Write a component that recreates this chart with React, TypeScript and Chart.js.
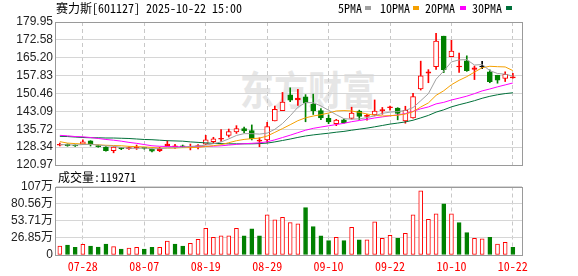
import React, { useEffect, useRef } from 'react';
import { Chart, registerables } from 'chart.js';
Chart.register(...registerables);

const stockTitle = '赛力斯[601127] 2025-10-22 15:00';
const volumeTitle = '成交量:119271';
const watermarkText = '东方财富';

const dates = ['07-23','07-24','07-25','07-28','07-29','07-30','07-31','08-01','08-04','08-05','08-06','08-07','08-08','08-11','08-12','08-13','08-14','08-15','08-18','08-19','08-20','08-21','08-22','08-25','08-26','08-27','08-28','08-29','09-01','09-02','09-03','09-04','09-05','09-08','09-09','09-10','09-11','09-12','09-15','09-16','09-17','09-18','09-19','09-22','09-23','09-24','09-25','09-26','09-29','09-30','10-09','10-10','10-13','10-14','10-15','10-16','10-17','10-20','10-21','10-22'];

const opens = [129.1,129.5,129.0,129.6,130.9,129.0,128.4,126.9,127.9,127.7,128.0,128.0,127.4,126.9,128.9,128.5,128.9,128.3,128.6,129.6,130.6,131.6,133.2,134.6,136.0,135.2,130.8,131.3,139.2,143.4,149.9,147.8,149.1,146.0,143.4,140.2,138.0,139.6,140.2,143.2,141.0,141.6,143.4,144.6,144.4,139.1,140.4,152.3,158.8,161.5,174.1,165.6,161.4,163.9,160.4,161.4,159.4,158.0,156.7,156.9];
const closes = [129.5,128.9,128.8,130.5,129.5,128.5,126.9,128.4,127.7,127.9,128.2,127.8,126.7,127.8,129.6,128.7,128.4,128.6,128.8,131.3,131.8,131.9,134.8,136.0,135.0,131.8,131.0,136.8,143.9,146.9,147.7,148.6,146.6,143.4,140.4,138.7,139.5,138.4,142.4,141.0,141.2,143.2,143.6,144.8,142.2,143.5,149.2,157.7,159.4,172.1,160.3,168.0,161.8,159.9,161.0,161.4,155.3,156.0,158.4,157.1];
const highs = [130.0,129.7,129.3,131.3,131.0,129.2,128.6,128.5,128.2,128.5,129.2,128.3,127.6,128.3,131.0,129.5,129.2,129.6,129.4,133.2,132.4,135.6,135.8,137.2,136.6,137.5,132.2,138.6,145.3,150.9,152.8,152.2,150.0,150.2,144.2,141.6,139.8,139.9,144.8,143.6,141.9,147.8,144.7,145.3,144.6,145.2,150.5,163.8,160.3,175.3,174.1,172.4,167.1,166.0,161.8,163.7,160.2,158.0,159.4,158.8];
const lows = [128.8,128.7,128.6,129.4,128.8,128.3,126.7,126.0,127.3,127.4,127.4,127.5,126.4,126.5,128.8,127.8,128.2,127.2,127.6,129.4,129.9,130.7,132.5,134.0,134.3,131.3,128.5,130.3,139.2,143.4,147.1,145.5,138.8,141.8,139.7,138.0,137.2,138.2,139.9,139.7,139.5,141.2,141.9,143.6,139.6,138.2,140.3,151.9,154.9,160.4,159.1,165.6,159.2,159.6,156.2,160.7,154.9,154.7,155.4,156.8];

// 成交量 (万手)
const volumes = [14.1,15.7,12.1,16.8,14.1,12.6,17.3,13.1,9.4,11.0,12.1,9.4,12.1,12.1,22.0,17.3,14.1,18.3,24.6,41.9,27.8,29.9,29.9,41.9,29.9,40.9,29.9,62.9,55.0,59.2,50.8,48.7,74.4,44.5,29.9,22.5,27.8,22.5,43.5,23.6,23.6,51.9,26.2,30.9,26.2,34.1,62.9,100.6,56.1,64.5,80.2,64.5,50.8,35.1,26.2,25.2,27.8,17.3,19.9,11.9271];

const ma5 = [129.4,129.3,129.2,129.4,129.44,129.24,128.84,128.76,128.2,127.88,127.82,128.0,127.66,127.68,128.02,128.12,128.24,128.62,128.82,129.16,129.78,130.48,131.72,133.16,133.9,133.9,133.72,134.12,135.7,138.08,141.26,144.78,146.74,146.64,145.34,143.54,141.72,140.08,139.88,140.0,140.5,141.24,142.28,142.76,143.0,143.46,144.66,147.48,150.4,156.38,159.74,163.5,164.32,164.42,162.2,162.42,159.88,158.72,158.42,157.64];
const ma10 = [130.6,130.0,129.8,129.6,129.5,129.3,129.1,129.0,128.9,128.66,128.53,128.42,128.21,127.94,127.95,127.97,128.12,128.14,128.24,128.58,128.94,129.35,130.16,130.98,131.52,131.83,132.06,132.92,134.43,135.99,137.58,139.25,140.43,141.17,141.71,142.4,143.25,143.41,143.26,142.67,142.02,141.48,141.18,141.32,141.5,141.98,142.95,144.88,146.58,149.69,151.6,154.08,155.9,157.41,159.29,161.08,161.69,161.52,161.42,159.92];
const ma20 = [133.2,133.0,132.7,132.6,132.3,131.9,131.5,131.2,130.8,130.3,129.9,129.4,128.9,128.7,128.6,128.5,128.5,128.5,128.6,128.63,128.74,128.89,129.19,129.47,129.75,129.91,130.12,130.54,131.35,132.3,133.27,134.31,135.31,136.09,136.63,137.13,137.66,138.16,138.84,139.32,139.8,140.37,140.81,141.25,141.61,142.19,143.1,144.15,144.92,146.18,146.81,147.78,148.54,149.37,150.4,151.53,152.32,153.2,154.0,154.81];
const ma30 = [132.8,132.7,132.5,132.3,132.2,132.2,132.1,132.1,132.0,131.9,131.7,131.5,131.4,131.2,131.0,130.9,130.8,130.5,130.3,130.1,129.9,129.8,129.7,129.7,129.7,129.7,129.8,130.0,130.5,131.08,131.68,132.35,132.95,133.38,133.74,134.08,134.5,134.83,135.32,135.76,136.19,136.71,137.27,137.84,138.26,138.75,139.43,140.4,141.42,142.78,143.73,144.94,145.84,146.63,147.5,148.49,149.3,149.94,150.42,150.76];

const priceTicks = [120.97,128.34,135.72,143.09,150.46,157.83,165.20,172.58,179.95];
const volTicks = [0,26.85,53.71,80.56,107.42];
const volTickLabels = ['0','26.85万','53.71万','80.56万','107万'];
const xTickDates = ['07-28','08-07','08-19','08-29','09-10','09-22','10-10','10-22'];
const maNames = ['5PMA','10PMA','20PMA','30PMA'];
const maSeries = [ma5, ma10, ma20, ma30];

const UP = '#ff0000';
const DOWN = '#008000';
const FLAT = '#000000';
const maColors = ['#a0a0a0','#f5a000','#ff00ff','#00703a'];
const FRAME = '#9a9a9a';
const GRID = '#d6d6d6';
const VGRID = '#c8c8c8';

const monoFont = '"Noto Sans Mono CJK SC", "Noto Sans CJK SC", "DejaVu Sans Mono", monospace';
const numFont = '"Liberation Sans", "Noto Sans CJK SC", sans-serif';

const X_MIN = -0.5;
const X_MAX = 60.19;
const xTickIdx = xTickDates.map((d) => dates.indexOf(d));

const candleColor = closes.map((c, i) => (c > opens[i] ? UP : c < opens[i] ? DOWN : FLAT));
const bodyFill = closes.map((c, i) =>
  c > opens[i] ? (c - opens[i] < 0.9 ? UP : '#ffffff') : candleColor[i]
);
const volUp = closes.map((c, i) => (i === 0 ? true : c >= closes[i - 1]));

const framePlugin = {
  id: 'frame',
  afterDraw(chart: any) {
    const { ctx, chartArea: a } = chart;
    ctx.save();
    ctx.strokeStyle = FRAME;
    ctx.lineWidth = 1;
    const l = Math.round(a.left) - 0.5;
    const t = Math.round(a.top) + 0.5;
    const r = Math.round(a.right) + 0.5;
    const b = Math.round(a.bottom) + 0.5;
    ctx.strokeRect(l, t, r - l, b - t);
    ctx.restore();
  },
};

const xScale = (showLabels: boolean) => ({
  type: 'linear',
  min: X_MIN,
  max: X_MAX,
  offset: false,
  afterBuildTicks: (s: any) => {
    s.ticks = xTickIdx.map((v) => ({ value: v }));
  },
  ticks: {
    display: showLabels,
    autoSkip: false,
    maxRotation: 0,
    padding: 4,
    color: UP,
    font: { family: monoFont, size: 12 },
    callback: (v: any) => dates[v] ?? '',
  },
  grid: { color: VGRID, drawTicks: false, offset: false },
  border: { display: false, dash: [4, 3] },
  afterFit: (s: any) => {
    s.height = showLabels ? 21 : 0;
  },
});

export default function App() {
  const mainRef = useRef<HTMLCanvasElement>(null);
  const volRef = useRef<HTMLCanvasElement>(null);

  useEffect(() => {
    const main = new Chart(mainRef.current as HTMLCanvasElement, {
      type: 'bar',
      data: {
        datasets: [
          ...maSeries.map((s, k) => ({
            type: 'line' as const,
            label: maNames[k],
            data: s.map((v, i) => ({ x: i, y: v })),
            borderColor: maColors[k],
            borderWidth: 1,
            pointRadius: 0,
            tension: 0,
            order: -1,
          })),
          {
            label: 'body',
            data: opens.map((o, i) => ({ x: i, y: [o, closes[i]] })),
            backgroundColor: bodyFill,
            borderColor: candleColor,
            borderWidth: 1,
            borderSkipped: false,
            barThickness: 5,
            grouped: false,
            minBarLength: 1,
            order: 0,
          },
          {
            label: 'wick',
            data: lows.map((l, i) => ({ x: i, y: [l, highs[i]] })),
            backgroundColor: candleColor,
            borderWidth: 0,
            barThickness: 1,
            grouped: false,
            order: 1,
          },
        ] as any,
      },
      options: {
        animation: false,
        responsive: false,
        layout: { padding: { left: 0, right: 56, top: 22, bottom: 111 } },
        plugins: { legend: { display: false }, tooltip: { enabled: false } },
        scales: {
          x: xScale(false) as any,
          y: {
            min: 120.97,
            max: 179.95,
            afterBuildTicks: (s: any) => {
              s.ticks = priceTicks.map((v) => ({ value: v }));
            },
            ticks: {
              autoSkip: false,
              padding: 3,
              color: '#222',
              font: { family: numFont, size: 12 },
              callback: (v: any) => Number(v).toFixed(2),
            },
            grid: { color: GRID, drawTicks: false },
            border: { display: false },
            afterFit: (s: any) => {
              s.width = 56;
            },
          } as any,
        },
      },
      plugins: [framePlugin],
    });

    const vol = new Chart(volRef.current as HTMLCanvasElement, {
      type: 'bar',
      data: {
        datasets: [
          {
            label: '成交量',
            data: volumes.map((v, i) => ({ x: i, y: v })),
            backgroundColor: volUp.map((u) => (u ? '#ffffff' : DOWN)),
            borderColor: volUp.map((u) => (u ? UP : DOWN)),
            borderWidth: 1,
            borderSkipped: false,
            barThickness: 4,
          },
        ] as any,
      },
      options: {
        animation: false,
        responsive: false,
        layout: { padding: { left: 0, right: 56, top: 186.5, bottom: 0 } },
        plugins: { legend: { display: false }, tooltip: { enabled: false } },
        scales: {
          x: xScale(true) as any,
          y: {
            min: 0,
            max: 107.42,
            afterBuildTicks: (s: any) => {
              s.ticks = volTicks.map((v) => ({ value: v }));
            },
            ticks: {
              autoSkip: false,
              padding: 3,
              color: '#222',
              font: { family: numFont, size: 12 },
              callback: (_v: any, idx: number) => volTickLabels[idx],
            },
            grid: { color: GRID, drawTicks: false },
            border: { display: false },
            afterFit: (s: any) => {
              s.width = 56;
            },
          } as any,
        },
      },
      plugins: [framePlugin],
    });

    return () => {
      main.destroy();
      vol.destroy();
    };
  }, []);

  const textBase: React.CSSProperties = {
    position: 'absolute',
    fontFamily: monoFont,
    fontSize: 12,
    lineHeight: '16px',
    color: '#000',
    whiteSpace: 'nowrap',
  };
  const legendLeft = [338, 380, 425, 472];
  const swatchLeft = [365, 413, 460, 506];

  return (
    <div style={{ position: 'absolute', left: 0, top: 0, width: 578, height: 276, background: '#fff', overflow: 'hidden' }}>
      <div
        style={{
          position: 'absolute',
          left: 240,
          top: 64,
          fontFamily: '"Noto Sans CJK SC", sans-serif',
          fontWeight: 700,
          fontSize: 40,
          lineHeight: '48px',
          color: '#e6e6e6',
          transform: 'scaleX(0.85)',
          transformOrigin: 'left top',
          whiteSpace: 'nowrap',
        }}
      >
        {watermarkText}
      </div>
      <canvas ref={mainRef} width={578} height={276} style={{ position: 'absolute', left: 0, top: 0 }} />
      <canvas ref={volRef} width={578} height={276} style={{ position: 'absolute', left: 0, top: 0 }} />
      <div style={{ ...textBase, left: 56, top: 0 }}>{stockTitle}</div>
      {maNames.map((n, k) => (
        <React.Fragment key={n}>
          <div style={{ ...textBase, left: legendLeft[k], top: 0 }}>{n}</div>
          <div style={{ position: 'absolute', left: swatchLeft[k], top: 6, width: 6, height: 4, background: maColors[k] }} />
        </React.Fragment>
      ))}
      <div style={{ ...textBase, left: 58, top: 169 }}>{volumeTitle}</div>
    </div>
  );
}
